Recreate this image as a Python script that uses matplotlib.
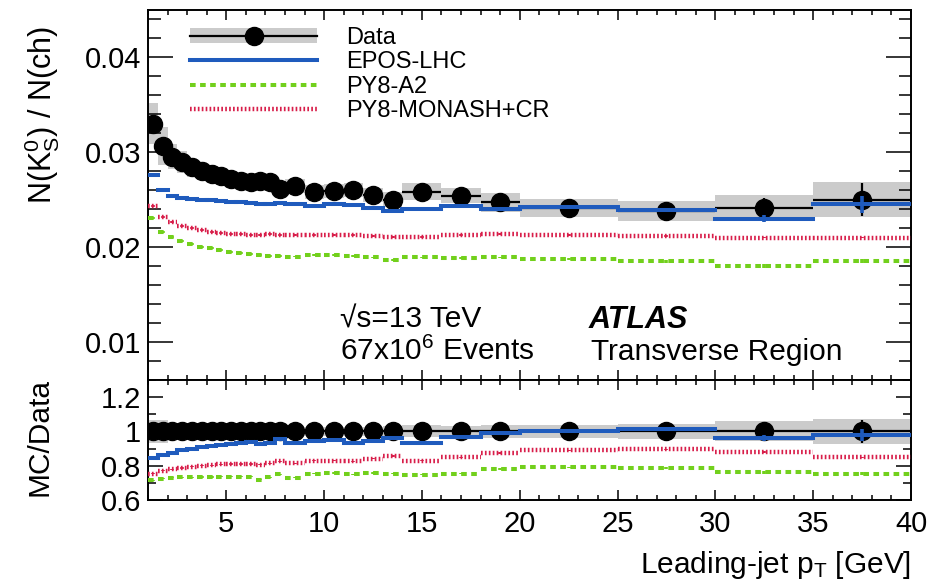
import numpy as np
import matplotlib
matplotlib.use("Agg")
import matplotlib.pyplot as plt
from matplotlib.lines import Line2D
from matplotlib.patches import Patch
from matplotlib.ticker import MultipleLocator, FixedLocator, FixedFormatter

plt.rcParams['font.family'] = ['Liberation Sans', 'DejaVu Sans']
plt.rcParams['mathtext.fontset'] = 'custom'
plt.rcParams['mathtext.rm'] = 'Liberation Sans'
plt.rcParams['mathtext.it'] = 'Liberation Sans:italic'
plt.rcParams['mathtext.bf'] = 'Liberation Sans:bold'

# Leading-jet pT binning [GeV]
edges = [1, 1.5, 2, 2.5, 3, 3.5, 4, 4.5, 5, 5.5, 6, 6.5, 7, 7.5, 8,
         9, 10, 11, 12, 13, 14, 16, 18, 20, 25, 30, 35, 40]

# N(K0S)/N(ch) measured
data = [0.0330, 0.0306, 0.0295, 0.0289, 0.0284, 0.0280, 0.0277, 0.0275, 0.0272,
        0.0270, 0.0268, 0.0270, 0.0268, 0.0261, 0.0264, 0.0258, 0.0259, 0.0260,
        0.0255, 0.0250, 0.0258, 0.0254, 0.0247, 0.0241, 0.0238, 0.0241, 0.0250]
# relative total uncertainty (grey band)
data_unc = [0.065, 0.065, 0.045, 0.040, 0.035, 0.033, 0.032, 0.030, 0.030,
            0.030, 0.030, 0.030, 0.030, 0.030, 0.028, 0.028, 0.028, 0.028,
            0.028, 0.030, 0.035, 0.030, 0.040, 0.038, 0.044, 0.058, 0.072]
# statistical uncertainty (absolute)
data_stat = [0.0002] * 20 + [0.0004, 0.0005, 0.0005, 0.0005, 0.0007, 0.0011, 0.0017]

# MC predictions
epos = [0.0276, 0.0260, 0.0254, 0.0252, 0.0251, 0.0250, 0.0249, 0.0248, 0.0247,
        0.0247, 0.0246, 0.0245, 0.0245, 0.0246, 0.0245, 0.0243, 0.0245, 0.0244,
        0.0241, 0.0238, 0.0240, 0.0243, 0.0240, 0.0242, 0.0239, 0.0230, 0.0245]
epos_err = [0.0001] * 23 + [0.00015, 0.0002, 0.0004, 0.0009]

a2 = [0.0231, 0.0216, 0.0211, 0.0206, 0.0203, 0.0200, 0.0199, 0.0197, 0.0195,
      0.0194, 0.0193, 0.0192, 0.0191, 0.0191, 0.0190, 0.0192, 0.0192, 0.0191,
      0.0189, 0.0186, 0.0189, 0.0188, 0.0189, 0.0187, 0.0185, 0.0180, 0.0185]
a2_err = [0.0001] * 23 + [0.0001, 0.00015, 0.0002, 0.0002]

monash = [0.0243, 0.0232, 0.0226, 0.0222, 0.0220, 0.0218, 0.0216, 0.0215, 0.0214,
          0.0214, 0.0213, 0.0213, 0.0214, 0.0213, 0.0213, 0.0213, 0.0213, 0.0213,
          0.0212, 0.0211, 0.0211, 0.0213, 0.0214, 0.0213, 0.0212, 0.0210, 0.0210]
monash_err = [0.0001] * 27

# MC/Data
epos_ratio = [0.845, 0.862, 0.876, 0.890, 0.900, 0.909, 0.917, 0.923, 0.929,
              0.934, 0.937, 0.925, 0.930, 0.955, 0.935, 0.947, 0.950, 0.935,
              0.947, 0.962, 0.934, 0.966, 0.989, 1.004, 1.013, 0.962, 0.981]
a2_ratio = [0.714, 0.724, 0.730, 0.733, 0.733, 0.734, 0.734, 0.735, 0.735,
            0.736, 0.736, 0.718, 0.733, 0.749, 0.730, 0.753, 0.757, 0.749,
            0.757, 0.753, 0.747, 0.753, 0.781, 0.790, 0.787, 0.762, 0.753]
monash_ratio = [0.753, 0.771, 0.780, 0.787, 0.794, 0.800, 0.803, 0.808, 0.810,
                0.810, 0.810, 0.806, 0.815, 0.825, 0.814, 0.829, 0.829, 0.825,
                0.842, 0.857, 0.829, 0.848, 0.874, 0.890, 0.895, 0.880, 0.848]

BLUE = '#1f5bbd'
GREEN = '#72d01c'
RED = '#d81e4a'
GREY = '#cbcbcb'

edges = np.array(edges)
lo, hi = edges[:-1], edges[1:]
centers = 0.5 * (lo + hi)
halfw = 0.5 * (hi - lo)
data = np.array(data)

GREEN_DASH = (0, (1.4, 1.1))
RED_DOT = (0, (0.38, 0.5))

styles = {
    'EPOS-LHC': dict(color=BLUE, lw=2.9, ls='-', capstyle='projecting'),
    'PY8-A2': dict(color=GREEN, lw=2.9, ls=GREEN_DASH),
    'PY8-MONASH+CR': dict(color=RED, lw=3.2, ls=RED_DOT),
}


def draw_mc(ax, vals, errs, name):
    st = styles[name]
    lc = ax.hlines(vals, lo, hi, colors=st['color'], linewidth=st['lw'],
                   linestyles=[st['ls']], zorder=4)
    if 'capstyle' in st:
        lc.set_capstyle(st['capstyle'])
    ax.errorbar(centers, vals, yerr=errs, fmt='none', ecolor=st['color'],
                elinewidth=2.6, capsize=0, zorder=4)


def style_axis(ax, ymin, ylen):
    ax.set_xlim(1, 40)
    ax.xaxis.set_major_locator(MultipleLocator(5))
    ax.xaxis.set_minor_locator(MultipleLocator(1))
    ax.yaxis.set_minor_locator(MultipleLocator(ymin))
    ax.tick_params(which='both', direction='in', top=True, right=True,
                   width=1.1, labelsize=21, pad=5)
    ax.tick_params(axis='x', which='major', length=7)
    ax.tick_params(axis='x', which='minor', length=3.6)
    ax.tick_params(axis='y', which='major', length=ylen)
    ax.tick_params(axis='y', which='minor', length=ylen / 2)
    for sp in ax.spines.values():
        sp.set_linewidth(1.4)


fig = plt.figure(figsize=(9.47, 5.86), dpi=100)
W, H = 947.0, 586.0
ax1 = fig.add_axes([148 / W, 1 - 380 / H, 763 / W, 370.5 / H])
ax2 = fig.add_axes([148 / W, 1 - 500 / H, 763 / W, 120 / H])

# ---- upper panel
unc = data * np.array(data_unc)
ax1.bar(centers, 2 * unc, bottom=data - unc, width=2 * halfw,
        color=GREY, lw=0, zorder=1)
ax1.errorbar(centers, data, xerr=halfw, yerr=data_stat, fmt='o', color='black',
             ms=13, elinewidth=1.6, capsize=0, zorder=3)
draw_mc(ax1, epos, epos_err, 'EPOS-LHC')
draw_mc(ax1, a2, a2_err, 'PY8-A2')
draw_mc(ax1, monash, monash_err, 'PY8-MONASH+CR')

ax1.set_ylim(0.006, 0.045)
ax1.yaxis.set_major_locator(FixedLocator([0.01, 0.02, 0.03, 0.04]))
ax1.yaxis.set_major_formatter(FixedFormatter(['0.01', '0.02', '0.03', '0.04']))
style_axis(ax1, 0.002, 18)
ax1.tick_params(labelbottom=False)

handles = [
    (Patch(facecolor=GREY, lw=0),
     Line2D([], [], color='black', lw=1.6, marker='o', ms=13)),
    Line2D([], [], color=BLUE, lw=2.9),
    Line2D([], [], color=GREEN, lw=2.9, ls=GREEN_DASH),
    Line2D([], [], color=RED, lw=3.2, ls=RED_DOT),
]
labels = ['Data', 'EPOS-LHC', 'PY8-A2', 'PY8-MONASH+CR']
ax1.legend(handles, labels, loc='upper left', bbox_to_anchor=(0.055, 0.953),
           frameon=False, fontsize=17, handlelength=5.4, handletextpad=1.2,
           labelspacing=0.1, borderpad=0, borderaxespad=0, handleheight=0.6)

ax1.text(0.252, 0.162, '\u221as=13 TeV', transform=ax1.transAxes,
         fontsize=21.5, va='center', ha='left')
ax1.text(0.577, 0.162, 'ATLAS', transform=ax1.transAxes, fontsize=22,
         fontweight='bold', fontstyle='italic', va='center', ha='left')
ax1.text(0.252, 0.076, '67x10$^{6}$ Events', transform=ax1.transAxes,
         fontsize=21.5, va='center', ha='left')
ax1.text(0.580, 0.076, 'Transverse Region', transform=ax1.transAxes,
         fontsize=21.5, va='center', ha='left')

# ---- ratio panel
ones = np.ones_like(data)
ax2.bar(centers, 2 * np.array(data_unc), bottom=ones - np.array(data_unc),
        width=2 * halfw, color=GREY, lw=0, zorder=1)
ax2.errorbar(centers, ones, xerr=halfw, yerr=np.array(data_stat) / data,
             fmt='o', color='black', ms=13, elinewidth=1.6, capsize=0, zorder=3)
draw_mc(ax2, epos_ratio, np.array(epos_err) / data, 'EPOS-LHC')
draw_mc(ax2, a2_ratio, np.array(a2_err) / data, 'PY8-A2')
draw_mc(ax2, monash_ratio, np.array(monash_err) / data, 'PY8-MONASH+CR')

ax2.set_ylim(0.6, 1.3)
ax2.yaxis.set_major_locator(FixedLocator([0.6, 0.8, 1.0, 1.2]))
ax2.yaxis.set_major_formatter(FixedFormatter(['0.6', '0.8', '1', '1.2']))
style_axis(ax2, 0.1, 11)
ax2.tick_params(axis='x', pad=7)

fig.text(42 / W, 1 - 115 / H, 'N(K$^{0}_{\\mathrm{S}}$) / N(ch)', rotation=90,
         ha='center', va='center', fontsize=22)
fig.text(40 / W, 1 - 437 / H, 'MC/Data', rotation=90, ha='center',
         va='center', fontsize=21.5)
fig.text(911 / W, 1 - 565 / H, 'Leading-jet p$_{\\mathrm{T}}$ [GeV]',
         ha='right', va='center', fontsize=21.5)

fig.savefig('out.png', dpi=100)
